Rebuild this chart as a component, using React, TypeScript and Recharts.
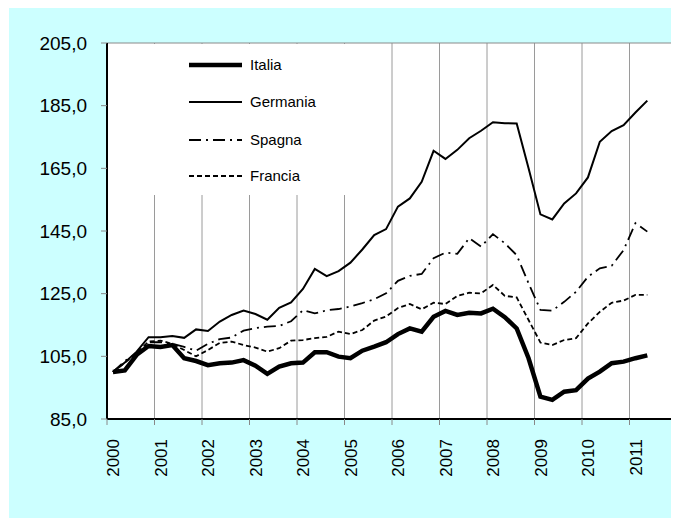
import { LineChart, Line, XAxis, YAxis, CartesianGrid, Legend, ReferenceLine } from "recharts";

// quarterly index, 2000 T1 = 100, up to 2011 T2
const startYear = 2000;
const yearTicks = [2000, 2001, 2002, 2003, 2004, 2005, 2006, 2007, 2008, 2009, 2010, 2011, 2012];
const valueTicks = [85, 105, 125, 145, 165, 185, 205];

const italia = [
  100, 100.5, 105.5, 108.3, 108, 108.6, 104.4, 103.5, 102.2, 102.8, 103, 103.8,
  102, 99.4, 101.7, 102.8, 103, 106.3, 106.3, 104.9, 104.4, 106.8, 108.1, 109.5,
  112.1, 113.9, 112.9, 117.6, 119.5, 118.2, 118.9, 118.7, 120.2, 117.5, 113.9, 104.4,
  92.1, 91.1, 93.7, 94.2, 97.9, 100.1, 102.8, 103.3, 104.4, 105.3,
];
const germania = [
  100, 103, 106.5, 111.1, 111.1, 111.5, 110.9, 113.6, 113.1, 116.1, 118.2, 119.6,
  118.5, 116.7, 120.5, 122.2, 126.5, 132.9, 130.6, 132.2, 134.9, 139.1, 143.7, 145.6,
  152.8, 155.4, 160.7, 170.6, 168, 170.9, 174.6, 177, 179.7, 179.4, 179.3, 165,
  150.3, 148.7, 153.8, 157, 162.1, 173.5, 176.9, 178.8, 182.8, 186.6,
];
const spagna = [
  100, 103.5, 106, 109.5, 109.5, 109, 108, 106.8, 109, 110.5, 111, 113.2,
  114, 114.5, 114.7, 116.2, 119.7, 118.7, 119.7, 120.1, 120.9, 122, 123.2, 125.1,
  129.1, 130.7, 131.3, 136.3, 138.1, 137.7, 142.7, 140, 144, 141.1, 137.3, 128.3,
  119.8, 119.6, 122.4, 125.6, 130.4, 133.1, 133.9, 138.9, 147.5, 144.8,
];
const francia = [
  100, 103, 106, 109.7, 110, 109, 107, 105, 107, 109.3, 109.7, 108.6,
  107.8, 106.5, 107.6, 110, 110.2, 110.8, 111.2, 112.9, 112.1, 113.4, 116.4, 117.7,
  120.4, 121.7, 120, 122.1, 121.7, 124.3, 125.3, 125.1, 127.8, 124.3, 123.8, 116.6,
  109.4, 108.6, 110.2, 110.8, 115.5, 119.2, 122.1, 122.8, 124.6, 124.6,
];

const series = [
  { key: "italia", name: "Italia", width: 4.5, dash: undefined as string | undefined },
  { key: "germania", name: "Germania", width: 2, dash: undefined as string | undefined },
  { key: "spagna", name: "Spagna", width: 1.8, dash: "12 5 2 5" },
  { key: "francia", name: "Francia", width: 1.8, dash: "5 3" },
];

const data = italia.map((v, i) => ({
  t: startYear + (i + 0.5) / 4,
  italia: v,
  germania: germania[i],
  spagna: spagna[i],
  francia: francia[i],
}));

const font = "'Liberation Sans', Arial, sans-serif";

function YearTick(props: any) {
  const { x, y, payload } = props;
  if (payload.value >= 2012) return null;
  return (
    <g transform={`translate(${x},${y})`}>
      <text
        transform="rotate(-90)"
        x={-14}
        y={0}
        dy="0.71em"
        textAnchor="end"
        fontSize={17}
        fontFamily={font}
        fill="#000"
      >
        {payload.value}
      </text>
    </g>
  );
}

function LegendBox() {
  const rows = [21, 58, 96, 132];
  return (
    <svg width={238} height={151} style={{ display: "block" }}>
      {series.map((s, i) => (
        <g key={s.key}>
          <line
            x1={81}
            x2={134}
            y1={rows[i]}
            y2={rows[i]}
            stroke="#000"
            strokeWidth={s.width}
            strokeDasharray={s.dash}
          />
          <text x={142} y={rows[i]} dy="0.36em" fontSize={15} fontFamily={font} fill="#000">
            {s.name}
          </text>
        </g>
      ))}
    </svg>
  );
}

export default function App() {
  return (
    <div style={{ width: 670, height: 510, marginLeft: 1, background: "#CCFFFF" }}>
      <LineChart width={670} height={510} data={data} margin={{ top: 35, right: 2, bottom: 0, left: 0 }}>
        <CartesianGrid horizontal={false} stroke="#9a9a9a" fill="#fff" />
        <XAxis
          dataKey="t"
          type="number"
          domain={[2000, 2012]}
          ticks={yearTicks}
          height={99}
          tickSize={6}
          tickMargin={0}
          tick={<YearTick />}
          axisLine={{ stroke: "#000", strokeWidth: 2 }}
          tickLine={{ stroke: "#888" }}
          interval={0}
        />
        <YAxis
          type="number"
          domain={[85, 205]}
          ticks={valueTicks}
          width={98}
          tickSize={6}
          tickMargin={14}
          tick={{ fontSize: 19, fill: "#000", fontFamily: font }}
          tickFormatter={(v: number) => v.toFixed(1).replace(".", ",")}
          axisLine={{ stroke: "#000", strokeWidth: 2 }}
          tickLine={{ stroke: "#888" }}
          interval={0}
        />
        <ReferenceLine y={205} stroke="#8a8a8a" />
        <ReferenceLine x={2012} stroke="#8a8a8a" />
        {series.map((s) => (
          <Line
            key={s.key}
            dataKey={s.key}
            name={s.name}
            type="linear"
            stroke="#000"
            strokeWidth={s.width}
            strokeDasharray={s.dash}
            dot={false}
            isAnimationActive={false}
          />
        ))}
        <Legend
          layout="vertical"
          align="center"
          verticalAlign="middle"
          content={() => <LegendBox />}
          wrapperStyle={{ left: 99, top: 36, width: 238, height: 151, background: "#fff" }}
        />
      </LineChart>
    </div>
  );
}
